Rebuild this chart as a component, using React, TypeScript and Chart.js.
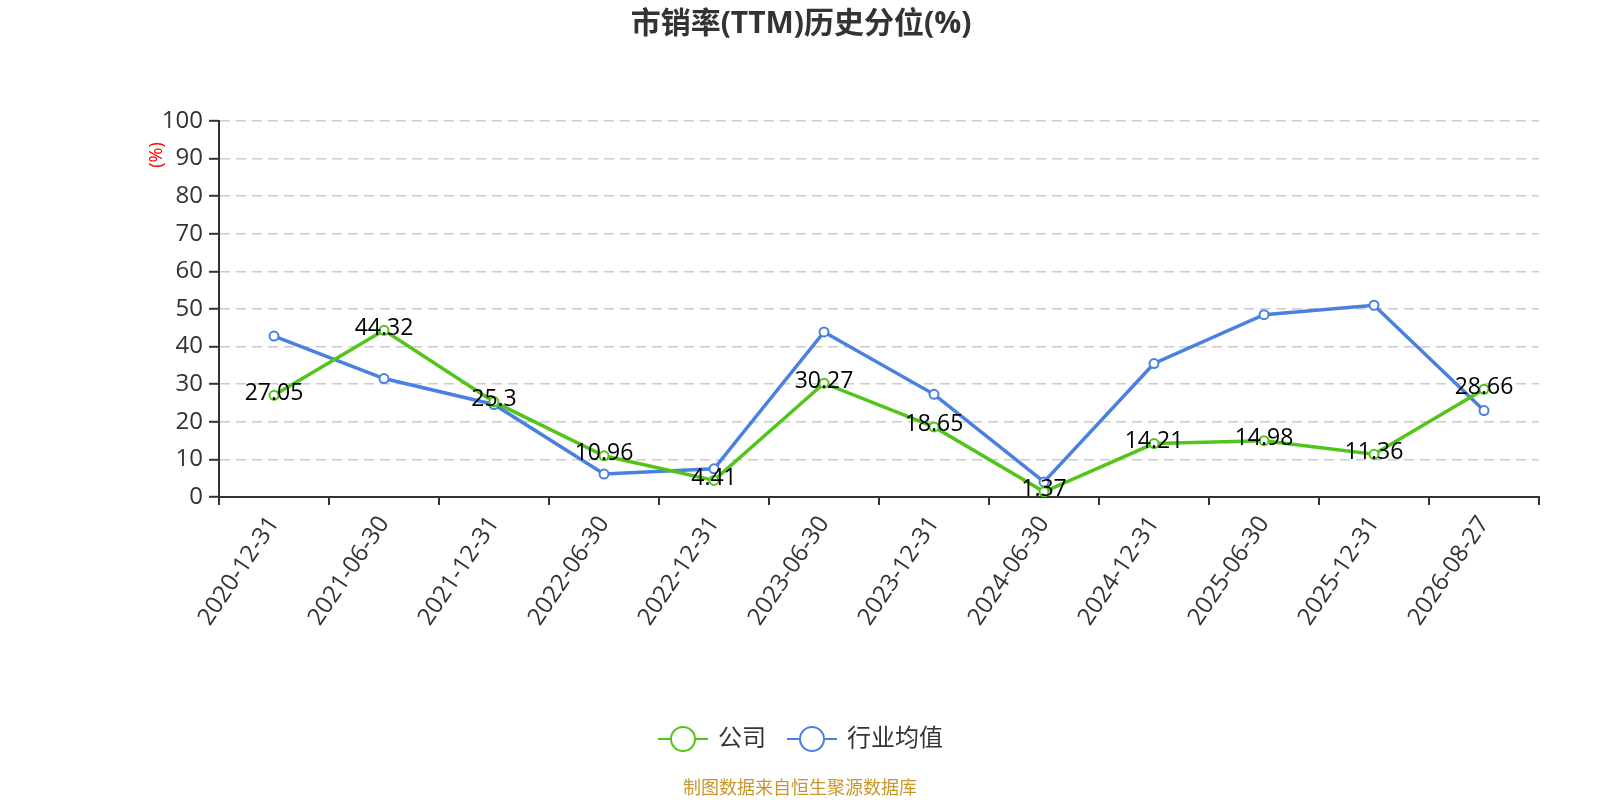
import { useEffect, useRef } from "react"
import { Chart, registerables } from "chart.js"

Chart.register(...registerables)

const dates = [
  "2020-12-31", "2021-06-30", "2021-12-31", "2022-06-30", "2022-12-31", "2023-06-30",
  "2023-12-31", "2024-06-30", "2024-12-31", "2025-06-30", "2025-12-31", "2026-08-27",
]
const companyValues = [27.05, 44.32, 25.3, 10.96, 4.41, 30.27, 18.65, 1.37, 14.21, 14.98, 11.36, 28.66]
const industryValues = [42.8, 31.5, 24.6, 6.1, 7.5, 43.9, 27.3, 4.0, 35.5, 48.5, 51.0, 23.0]
const seriesNames = ["公司", "行业均值"]
const seriesColors = ["#52c41a", "#4a80e0"]

const FONT = "'Open Sans', 'Noto Sans CJK SC', sans-serif"

// title, axis name, value labels, legend and footer
const decorations = {
  id: "decorations",
  afterDatasetsDraw(chart: any) {
    const ctx = chart.ctx
    const meta = chart.getDatasetMeta(0)
    ctx.save()
    ctx.font = `23px ${FONT}`
    ctx.fillStyle = "#000"
    ctx.textAlign = "center"
    ctx.textBaseline = "middle"
    meta.data.forEach((pt: any, i: number) => {
      ctx.fillText(String(companyValues[i]), pt.x, pt.y - 2)
    })
    ctx.restore()
  },
  afterDraw(chart: any) {
    const ctx = chart.ctx
    ctx.save()
    // title
    ctx.font = `bold 30px ${FONT}`
    ctx.fillStyle = "#333"
    ctx.textAlign = "center"
    ctx.textBaseline = "middle"
    ctx.fillText("市销率(TTM)历史分位(%)", 801, 24)

    // y axis name
    ctx.save()
    ctx.translate(157, 155)
    ctx.rotate(-Math.PI / 2)
    ctx.font = `18px ${FONT}`
    ctx.fillStyle = "#ff0000"
    ctx.fillText("(%)", 0, 0)
    ctx.restore()

    // legend
    const items = [
      { x: 658, color: seriesColors[0], name: seriesNames[0] },
      { x: 787, color: seriesColors[1], name: seriesNames[1] },
    ]
    const ly = 739
    items.forEach((it) => {
      ctx.strokeStyle = it.color
      ctx.lineWidth = 2
      ctx.beginPath()
      ctx.moveTo(it.x, ly)
      ctx.lineTo(it.x + 50, ly)
      ctx.stroke()
      ctx.beginPath()
      ctx.arc(it.x + 25, ly, 12, 0, Math.PI * 2)
      ctx.fillStyle = "#fff"
      ctx.fill()
      ctx.stroke()
      ctx.font = `24px ${FONT}`
      ctx.fillStyle = "#333"
      ctx.textAlign = "left"
      ctx.fillText(it.name, it.x + 60, ly)
    })

    // footer
    ctx.font = `18px ${FONT}`
    ctx.fillStyle = "#c9962b"
    ctx.textAlign = "center"
    ctx.fillText("制图数据来自恒生聚源数据库", 800, 789)
    ctx.restore()
  },
}

export default function App() {
  const chartRef = useRef<HTMLCanvasElement>(null)
  const chartInstance = useRef<Chart | null>(null)

  useEffect(() => {
    if (!chartRef.current) return
    if (chartInstance.current) chartInstance.current.destroy()

    const ctx = chartRef.current.getContext("2d")
    if (!ctx) return

    chartInstance.current = new Chart(ctx, {
      type: "line",
      data: {
        labels: dates,
        datasets: [
          {
            label: seriesNames[0],
            data: companyValues,
            borderColor: seriesColors[0],
            backgroundColor: "#fff",
            borderWidth: 3.5,
            pointRadius: 4.5,
            pointBorderWidth: 2,
            pointBackgroundColor: "#fff",
            pointBorderColor: seriesColors[0],
            tension: 0,
          },
          {
            label: seriesNames[1],
            data: industryValues,
            borderColor: seriesColors[1],
            backgroundColor: "#fff",
            borderWidth: 3.5,
            pointRadius: 4.5,
            pointBorderWidth: 2,
            pointBackgroundColor: "#fff",
            pointBorderColor: seriesColors[1],
            tension: 0,
          },
        ],
      },
      options: {
        responsive: false,
        animation: false,
        layout: { padding: { top: 121, left: 0, right: 61, bottom: 0 } },
        plugins: {
          legend: { display: false },
          title: { display: false },
          tooltip: { enabled: false },
        },
        scales: {
          x: {
            offset: true,
            grid: {
              offset: true,
              drawOnChartArea: false,
              drawTicks: true,
              tickLength: 8,
              tickColor: "#333",
              lineWidth: 2,
            },
            border: { color: "#333", width: 2 },
            ticks: {
              color: "#333",
              font: { size: 24, family: FONT },
              maxRotation: 56,
              minRotation: 56,
              autoSkip: false,
              padding: 6,
            },
            afterFit(scale: any) {
              scale.height = 800 - 497
            },
          },
          y: {
            min: 0,
            max: 100,
            grid: {
              color: "#cccccc",
              lineWidth: 1.6,
              tickLength: 10,
              tickColor: "#333",
              tickWidth: 2,
              tickBorderDash: [],
            },
            border: { color: "#333", width: 2, dash: [10, 6] },
            ticks: {
              stepSize: 10,
              color: "#333",
              font: { size: 24, family: FONT },
              padding: 6,
            },
            afterFit(scale: any) {
              scale.width = 219
            },
          },
        },
      },
      plugins: [decorations],
    })

    return () => {
      if (chartInstance.current) {
        chartInstance.current.destroy()
        chartInstance.current = null
      }
    }
  }, [])

  return (
    <div style={{ position: "fixed", left: 0, top: 0, width: 1600, height: 800, background: "#fff" }}>
      <canvas ref={chartRef} width={1600} height={800} style={{ width: 1600, height: 800 }} />
    </div>
  )
}
